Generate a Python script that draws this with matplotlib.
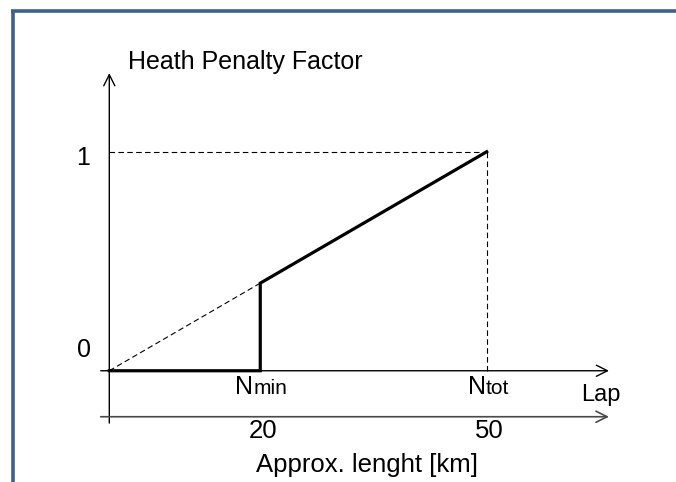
import matplotlib as mpl
mpl.use('Agg')
import matplotlib.pyplot as plt

plt.rcParams['font.family'] = ['Liberation Sans', 'DejaVu Sans']

# penalty curve: zero until Nmin, then jump onto the linear ramp up to Ntot
laps = [0, 20, 20, 50]
penalty = [0, 0, 0.4, 1.0]
# reference (dashed) ramp from the origin
ramp_laps = [0, 20]
ramp_pen = [0, 0.4]
n_min, n_tot = 20, 50
km_ticks = ['20', '50']

fig = plt.figure(figsize=(6.76, 4.82), dpi=100)
ax = fig.add_axes([0, 0, 1, 1])
ax.set_xlim(-14.48, 75.08)
ax.set_ylim(-0.508, 1.693)
ax.axis('off')

# frame (blue border, top and left visible)
bc = '#3b6192'
ax.plot([12.7/676, 12.7/676], [0, 1-10.8/482], color=bc, lw=2.6, transform=ax.transAxes, solid_capstyle='butt')
ax.plot([12.7/676-0.0025, 1], [1-10.8/482, 1-10.8/482], color=bc, lw=2.6, transform=ax.transAxes, solid_capstyle='butt')

arr = dict(arrowstyle='->', lw=1.0, color='black', mutation_scale=20, shrinkA=0, shrinkB=0)
# y axis
ax.annotate('', xy=(0, 1.359), xytext=(0, -0.239), arrowprops=arr)
# lap axis
ax.annotate('', xy=(66.2, 0), xytext=(-1.14, 0), arrowprops=arr)
# km axis (drawn a bit greyer)
arr_km = dict(arr, color='#4a4a4a', lw=1.2)
ax.annotate('', xy=(66.2, -0.21), xytext=(-1.14, -0.21), arrowprops=arr_km)

dash = (0, (5, 3))
ax.plot([0, n_tot], [1, 1], color='black', lw=0.8, ls=dash)
ax.plot([n_tot, n_tot], [0, 1], color='black', lw=0.8, ls=dash)
ax.plot(ramp_laps, ramp_pen, color='black', lw=0.8, ls=dash)

ax.plot(laps, penalty, color='black', lw=2.3, solid_joinstyle='miter', zorder=5)

ax.text(2.45, 1.378, 'Heath Penalty Factor', fontsize=18, ha='left', va='baseline')
ax.text(-3.45, 0.939, '1', fontsize=18, ha='center', va='baseline')
ax.text(-3.3, 0.0626, '0', fontsize=18, ha='center', va='baseline')

# N labels with smaller suffix
for x, suf in [(n_min, 'min'), (n_tot, 'tot')]:
    xs = x - 0.9 if suf == 'min' else x - 0.1
    ax.text(xs, -0.106, 'N', fontsize=18, ha='right', va='baseline')
    ax.text(xs, -0.106, suf, fontsize=15, ha='left', va='baseline')

ax.text(65.14, -0.138, 'Lap', fontsize=17, ha='center', va='baseline')
for x, lbl in zip([n_min, n_tot], km_ticks):
    ax.text(x + 0.4, -0.307, lbl, fontsize=18.5, ha='center', va='baseline')
ax.text(34.2, -0.463, 'Approx. lenght [km]', fontsize=18.5, ha='center', va='baseline')

fig.savefig('out.png', dpi=100)
